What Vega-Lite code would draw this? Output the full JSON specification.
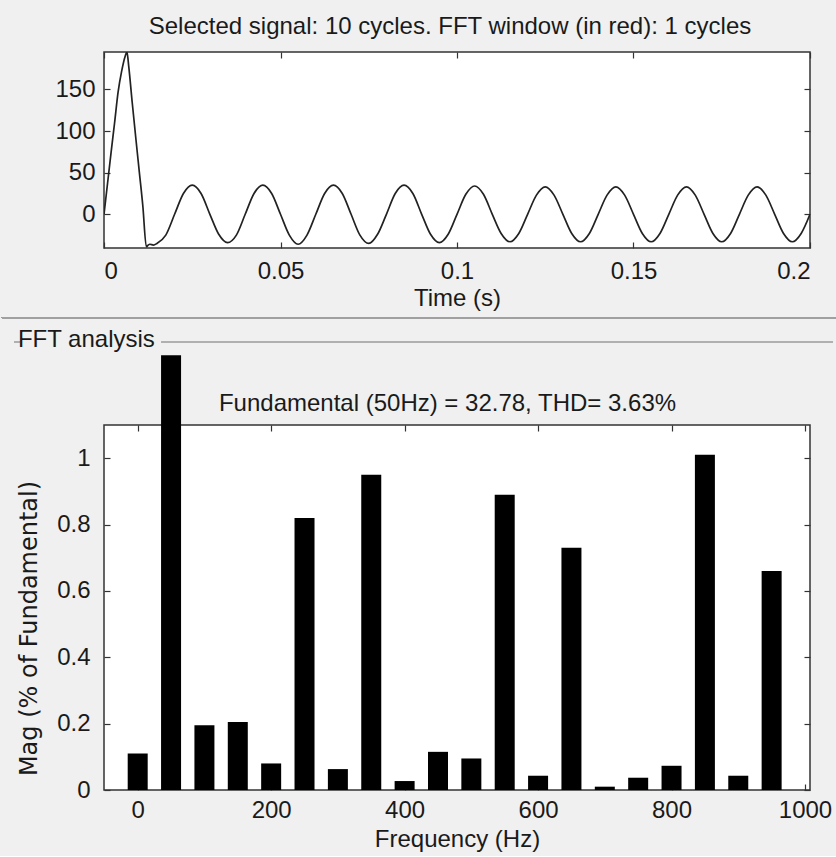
{
  "$schema": "https://vega.github.io/schema/vega-lite/v6.json",
  "background": "#f0f0f0",
  "padding": {"left": 0, "top": 14, "right": 0, "bottom": 4},
  "spacing": 7,
  "datasets": {
    "signal": [
      {"t": 0, "v": 0}, {"t": 0.001, "v": 37}, {"t": 0.002, "v": 74}, {"t": 0.003, "v": 110},
      {"t": 0.004, "v": 147}, {"t": 0.005, "v": 172}, {"t": 0.006, "v": 190}, {"t": 0.0065, "v": 195},
      {"t": 0.007, "v": 178}, {"t": 0.008, "v": 134}, {"t": 0.009, "v": 92}, {"t": 0.01, "v": 51},
      {"t": 0.011, "v": 10}, {"t": 0.012, "v": -39}, {"t": 0.0125, "v": -37}, {"t": 0.013, "v": -36},
      {"t": 0.014, "v": -37}, {"t": 0.015, "v": -35},
      {"t": 0.0175, "v": -25}, {"t": 0.02, "v": 0}, {"t": 0.0225, "v": 25}, {"t": 0.025, "v": 35},
      {"t": 0.0275, "v": 25}, {"t": 0.03, "v": 0}, {"t": 0.0325, "v": -24}, {"t": 0.035, "v": -34},
      {"t": 0.0375, "v": -25}, {"t": 0.04, "v": 0}, {"t": 0.0425, "v": 25}, {"t": 0.045, "v": 35},
      {"t": 0.0475, "v": 25}, {"t": 0.05, "v": 0}, {"t": 0.0525, "v": -25}, {"t": 0.055, "v": -36},
      {"t": 0.0575, "v": -25}, {"t": 0.06, "v": 0}, {"t": 0.0625, "v": 25}, {"t": 0.065, "v": 35},
      {"t": 0.0675, "v": 25}, {"t": 0.07, "v": 0}, {"t": 0.0725, "v": -25}, {"t": 0.075, "v": -35},
      {"t": 0.0775, "v": -24}, {"t": 0.08, "v": 0}, {"t": 0.0825, "v": 25}, {"t": 0.085, "v": 35},
      {"t": 0.0875, "v": 25}, {"t": 0.09, "v": 0}, {"t": 0.0925, "v": -24}, {"t": 0.095, "v": -34},
      {"t": 0.0975, "v": -24}, {"t": 0.1, "v": 0}, {"t": 0.1025, "v": 24}, {"t": 0.105, "v": 34},
      {"t": 0.1075, "v": 24}, {"t": 0.11, "v": 0}, {"t": 0.1125, "v": -23}, {"t": 0.115, "v": -33},
      {"t": 0.1175, "v": -23}, {"t": 0.12, "v": 0}, {"t": 0.1225, "v": 23}, {"t": 0.125, "v": 33},
      {"t": 0.1275, "v": 23}, {"t": 0.13, "v": 0}, {"t": 0.1325, "v": -23}, {"t": 0.135, "v": -33},
      {"t": 0.1375, "v": -23}, {"t": 0.14, "v": 0}, {"t": 0.1425, "v": 23}, {"t": 0.145, "v": 33},
      {"t": 0.1475, "v": 23}, {"t": 0.15, "v": 0}, {"t": 0.1525, "v": -23}, {"t": 0.155, "v": -33},
      {"t": 0.1575, "v": -23}, {"t": 0.16, "v": 0}, {"t": 0.1625, "v": 23}, {"t": 0.165, "v": 33},
      {"t": 0.1675, "v": 23}, {"t": 0.17, "v": 0}, {"t": 0.1725, "v": -23}, {"t": 0.175, "v": -33},
      {"t": 0.1775, "v": -23}, {"t": 0.18, "v": 0}, {"t": 0.1825, "v": 23}, {"t": 0.185, "v": 33},
      {"t": 0.1875, "v": 23}, {"t": 0.19, "v": 0}, {"t": 0.1925, "v": -23}, {"t": 0.195, "v": -33},
      {"t": 0.1975, "v": -23}, {"t": 0.2, "v": 0}
    ],
    "fft": [
      {"f": 0, "m": 0.11}, {"f": 50, "m": 1.31}, {"f": 100, "m": 0.195}, {"f": 150, "m": 0.205},
      {"f": 200, "m": 0.08}, {"f": 250, "m": 0.82}, {"f": 300, "m": 0.063}, {"f": 350, "m": 0.95},
      {"f": 400, "m": 0.027}, {"f": 450, "m": 0.115}, {"f": 500, "m": 0.095}, {"f": 550, "m": 0.89},
      {"f": 600, "m": 0.043}, {"f": 650, "m": 0.73}, {"f": 700, "m": 0.01}, {"f": 750, "m": 0.037},
      {"f": 800, "m": 0.073}, {"f": 850, "m": 1.01}, {"f": 900, "m": 0.043}, {"f": 950, "m": 0.66}
    ]
  },
  "vconcat": [
    {
      "width": 706,
      "height": 196,
      "title": {"text": "Selected signal: 10 cycles. FFT window (in red): 1 cycles", "offset": 12, "dx": -7},
      "data": {"name": "signal"},
      "layer": [
        {
          "mark": {"type": "line", "color": "#222", "strokeWidth": 1.7, "interpolate": "monotone", "clip": true},
          "encoding": {
            "x": {"field": "t", "type": "quantitative", "scale": {"domain": [0, 0.2], "nice": false},
                  "axis": {"values": [0, 0.05, 0.1, 0.15, 0.2], "format": "~r", "labelPadding": 17, "title": "Time (s)", "titlePadding": 3}},
            "y": {"field": "v", "type": "quantitative", "scale": {"domain": [-40.5, 195], "nice": false, "zero": false},
                  "axis": {"values": [0, 50, 100, 150], "format": "~r", "labelPadding": 15, "title": null}}
          }
        },
        {
          "mark": {"type": "line", "opacity": 0},
          "encoding": {
            "x": {"field": "t", "type": "quantitative", "axis": {"orient": "top", "values": [0, 0.05, 0.1, 0.15, 0.2], "labels": false, "title": null}},
            "y": {"field": "v", "type": "quantitative", "axis": {"orient": "right", "values": [0, 50, 100, 150], "labels": false, "title": null}}
          }
        },
        {
          "mark": {"type": "rule", "color": "#a0a0a0", "strokeWidth": 1.5, "clip": false},
          "encoding": {
            "x": {"datum": -0.0289, "type": "quantitative", "axis": null},
            "x2": {"datum": 0.2079},
            "y": {"datum": -124.3, "type": "quantitative", "axis": null}
          }
        }
      ],
      "resolve": {"axis": {"x": "independent", "y": "independent"}}
    },
    {
      "title": {"text": "FFT analysis", "anchor": "start", "offset": -11, "dx": 5},
      "vconcat": [
        {
          "width": 706,
          "height": 365,
          "data": {"name": "fft"},
          "layer": [
            {
              "mark": {"type": "bar", "color": "black", "size": 20, "orient": "vertical", "clip": false},
              "encoding": {
                "x": {"field": "f", "type": "quantitative", "scale": {"domain": [-43, 1000], "nice": false, "zero": false},
                      "axis": {"values": [0, 200, 400, 600, 800, 1000], "format": "~r", "labelPadding": 14, "title": "Frequency (Hz)", "titlePadding": 5}},
                "y": {"field": "m", "type": "quantitative", "scale": {"domain": [0, 1.1], "nice": false},
                      "axis": {"values": [0, 0.2, 0.4, 0.6, 0.8, 1], "format": "~r", "labelPadding": 20, "title": "Mag (% of Fundamental)",
                               "titleFont": "DejaVu Sans", "titleFontSize": 24, "titleX": -63, "titleY": 203}}
              }
            },
            {
              "mark": {"type": "bar", "opacity": 0, "size": 20, "orient": "vertical"},
              "encoding": {
                "x": {"field": "f", "type": "quantitative", "axis": {"orient": "top", "values": [0, 200, 400, 600, 800, 1000], "labels": false,
                      "title": "Fundamental (50Hz) = 32.78, THD= 3.63%", "titlePadding": 9, "titleX": 343}},
                "y": {"field": "m", "type": "quantitative", "axis": {"orient": "right", "values": [0, 0.2, 0.4, 0.6, 0.8, 1], "labels": false, "title": null}}
              }
            },
            {
              "mark": {"type": "rule", "color": "#b0b0b0", "strokeWidth": 1.5, "clip": false},
              "encoding": {
                "x": {"datum": 35.3, "type": "quantitative", "axis": null},
                "x2": {"datum": 1041.4},
                "y": {"datum": 1.35, "type": "quantitative", "axis": null}
              }
            },
            {
              "mark": {"type": "rule", "color": "#b0b0b0", "strokeWidth": 1.5, "clip": false},
              "encoding": {
                "x": {"datum": -184.8, "type": "quantitative", "axis": null},
                "x2": {"datum": -177},
                "y": {"datum": 1.35, "type": "quantitative", "axis": null}
              }
            }
          ],
          "resolve": {"axis": {"x": "independent", "y": "independent"}}
        }
      ]
    }
  ],
  "config": {
    "font": "Liberation Sans",
    "view": {"stroke": "#333", "strokeWidth": 1.5, "fill": "white"},
    "axis": {
      "grid": false, "domain": false, "tickColor": "#333", "tickSize": -6, "tickWidth": 1.2,
      "labelFontSize": 24, "labelColor": "#1a1a1a",
      "titleFontSize": 24, "titleFontWeight": "normal", "titleColor": "#1a1a1a"
    },
    "title": {"fontSize": 24, "fontWeight": "normal", "color": "#1a1a1a"}
  }
}
